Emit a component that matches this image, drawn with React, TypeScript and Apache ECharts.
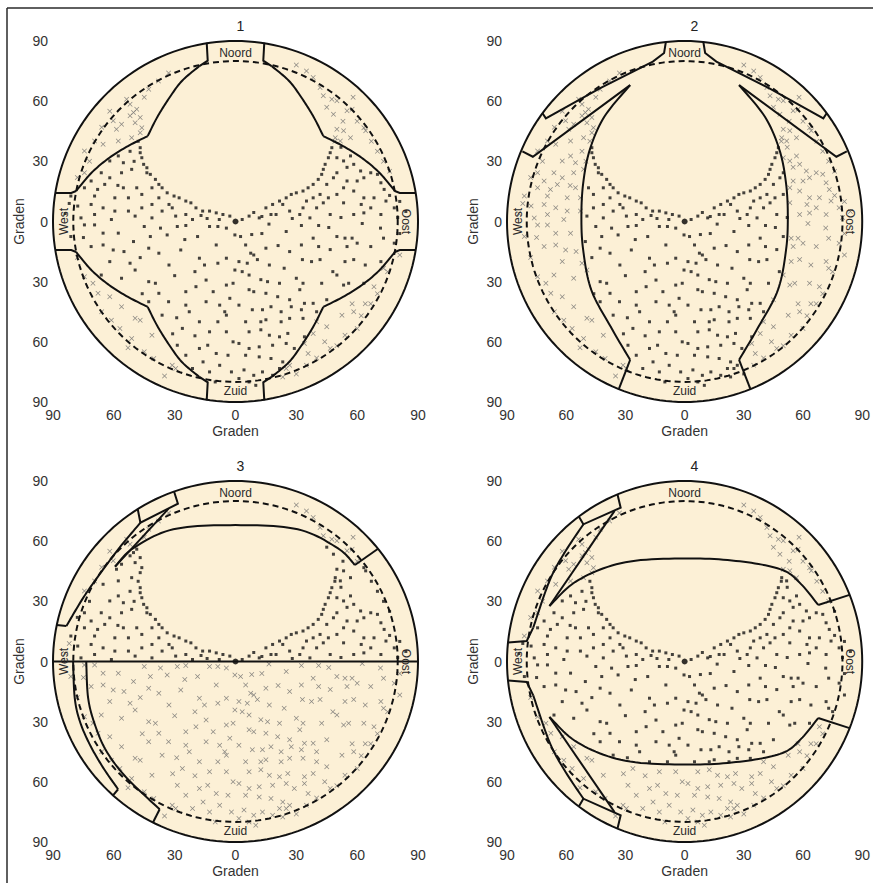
import React, { useEffect, useRef } from "react";
import * as echarts from "echarts";

type Pt = number[];
type Stroke = { pts: Pt[]; smooth?: boolean };

const panelTitles = ["1", "2", "3", "4"];
const axisName = "Graden";

// Star positions (x = east/west degrees, y = north/south degrees)
const pointsNE: Pt[] = [
  [3.3, 1], [6.7, 2.7], [9, 4.5], [11.7, 1.8], [13, 2.5], [15, 6.8], [17.5, 3.5], [18.3, 8.5], [20, 3.5], [21.7, 10.2],
  [23.3, 8.5], [25, 11.8], [26.7, 5.2], [27.5, 13.5], [28, 1.5], [30, 14.3], [31.7, 3.5], [33.3, 15.2], [33.3, 6.8], [35, 10.2],
  [35.8, 16.8], [36.7, 1.8], [38.3, 18.5], [38.3, 11.8], [40, 6.8], [40.8, 21], [41.7, 13.5], [42.5, 23.5], [43.3, 26], [43.3, 9.3],
  [44.2, 28.5], [45, 18.5], [45.8, 31.8], [45.8, 11.8], [46.7, 34.3], [46.7, 3.5], [47.5, 36.8], [48.3, 21.8], [49, 40], [50, 31.8],
  [50, 24.3], [50, 13.5], [52, 37], [52, 2], [53.3, 30.2], [53.3, 16.8], [53.3, 9.3], [55, 27], [55, 20.2], [56.7, 32.7],
  [58.3, 28.5], [58.3, 15.2], [58.3, 3.5], [60, 20.2], [61.7, 25.2], [62, 8.5], [63.3, 21.8], [63.3, 11.8], [63.3, 4.3], [66.7, 24.3],
  [66.7, 6.8], [68.3, 11.8], [70, 23.5], [71.7, 19.3], [71.7, 3.5], [73.3, 16], [74.2, 10.2], [76, 13], [78.3, 6.8], [80, 2],
  [81, 10], [84, 5],
  [30, 78], [35, 75], [38.3, 71.8], [41.7, 66.8], [43.3, 62.7], [45, 57], [47.5, 61], [48.3, 53.5], [49.2, 41.8], [50, 60.2],
  [50, 46], [51.7, 40.2], [53, 50], [53.3, 45.2], [55, 55.2], [56.7, 41.8], [57.5, 56], [58, 62], [60, 50], [63.3, 46.8],
  [64.2, 45.2], [67, 40], [70, 35], [73, 30], [76, 25],
];

const pointsNW: Pt[] = [
  [-2.8, 2.7], [-6.2, 3.5], [-8, 1], [-9.5, 4.3], [-12.8, 5.2], [-14, 1.5], [-16.2, 5.2], [-17, 3], [-19.5, 6.8], [-21.2, 1],
  [-22, 9.3], [-24.5, 10.2], [-24.5, 3.5], [-27.8, 11.8], [-29.5, 2.7], [-30.3, 12.7], [-31.2, 6.8], [-32.8, 8.5], [-33.7, 14.3], [-36.2, 16.8],
  [-36.2, 5.2], [-37.8, 18.5], [-37.8, 11.8], [-39.5, 21], [-41.2, 16.8], [-41.2, 8.5], [-41.2, 1.8], [-42, 23.5], [-43.7, 24.3], [-43.7, 26.8],
  [-45.3, 28.5], [-46.2, 31.8], [-46.2, 13.5], [-46.2, 6.8], [-47, 34.3], [-47, 36.8], [-48, 40], [-48.7, 16.8], [-49.5, 2.7], [-50, 30],
  [-51.2, 26], [-52, 35], [-52.8, 11.8], [-52.8, 5.2], [-55.3, 29.3], [-55.3, 16.8], [-56.2, 24.3], [-57.8, 32.7], [-58, 18], [-59.5, 11.8],
  [-59.5, 5.2], [-61.2, 1], [-62, 30.2], [-62, 21.8], [-64.5, 18.5], [-65.3, 6.8], [-66.2, 24.3], [-68, 16], [-69.5, 12.7], [-69.5, 3.5],
  [-71.2, 20.2], [-71.2, 8.5], [-74.5, 24.3], [-74.5, 16.8], [-76.2, 1.8], [-77.8, 7.7], [-81.2, 12.7], [-82, 9], [-84, 4],
  [-33, 74], [-38, 70], [-42.8, 66], [-45, 62], [-46.2, 46.8], [-47, 51.8], [-47, 44.3], [-48.7, 56], [-49.5, 49.3], [-50.3, 54.3],
  [-51.2, 41.8], [-52, 58.5], [-52, 52.7], [-53.7, 61], [-56.2, 48.5], [-57.8, 40.2], [-58.7, 46], [-60.3, 50.2], [-62, 55], [-65.3, 38.5],
  [-66, 47], [-69.5, 40.2], [-72, 30], [-74.5, 35.2], [-78, 22],
];

const pointsSW: Pt[] = [
  [-0.3, -6.7], [-4.5, -3.3], [-8.7, -2.5], [-9.5, -11.7], [-12.8, -2.5], [-18.7, -7.5], [-24.5, -2], [-25, -9], [-28.7, -2.5], [-33.7, -6.7],
  [-37, -3.3], [-42, -7.5], [-45, -2.5], [-50.3, -10], [-57.8, -5.8], [-65.3, -5.8], [-69.5, -1.7], [-74.5, -1.7], [-75, -8], [-81.2, -7.5],
  [-0.3, -24.2], [-4.5, -18.3], [-8.7, -20.8], [-15.3, -21.7], [-17.8, -18.3], [-20, -25], [-27, -14.2], [-32.8, -21.7], [-37.8, -15.8], [-42.8, -13.3],
  [-47, -18], [-52, -20.8], [-55, -15], [-60.3, -14.2], [-62, -20], [-65.3, -11.7], [-71.2, -12.5],
  [-1.2, -30.8], [-4.5, -31.7], [-11, -35], [-14.5, -29.2], [-19.5, -32.5], [-24.5, -35], [-30, -27], [-33, -40], [-37.8, -35.8], [-39.5, -30.8],
  [-42.8, -30], [-42.8, -40], [-46, -36], [-49.5, -24.2], [-56.2, -28.3], [-66.2, -26.7],
  [-2.8, -38.3], [-5.3, -45], [-7.8, -41.7], [-14.5, -40], [-22.8, -45], [-24.5, -41.7], [-29, -48], [-36.2, -46.7],
  [-1.2, -60], [-4.5, -46.7], [-4.5, -55], [-8.7, -50], [-12.8, -55], [-13.7, -61.7], [-17.8, -50], [-17.8, -63.3], [-20, -57], [-26.2, -53.3],
  [-31, -56], [-28.7, -61.7],
  [-2, -75], [-3.7, -66.7], [-7.8, -71.7], [-9.5, -65.8], [-10, -80], [-12.8, -75], [-16, -70], [-21.2, -73.3], [-24.5, -66.7],
  [-29.5, -73.3], [-31.2, -71.7], [-35, -77], [-40.3, -68.3], [-41.2, -56.7], [-45, -65], [-47, -49.2], [-49.5, -48.3], [-51.2, -58.3], [-53, -63],
  [-56.2, -42.5], [-57, -53.3], [-61.2, -49.2], [-62, -37.5], [-66, -45], [-67.8, -35.8], [-70.3, -30.8], [-74.5, -27.5], [-78, -18],
];

const pointsSE: Pt[] = [
  [2.5, -7.5], [8, -6.5], [13, -6], [16.5, -1.3], [25, -5], [32.5, -2], [41, -2], [46, -3], [50, -7.5], [54, -8.3],
  [57.5, -8.3], [62.5, -1], [71.5, -3.3], [73, -8.3], [81, -6],
  [5, -11.7], [7.5, -15.8], [9, -16.7], [15, -13.3], [21, -12], [26.7, -15], [32.5, -11.7], [38.3, -8.3], [41, -12.5], [46.7, -14],
  [55, -12.5], [60, -10.8], [66.7, -12.5], [78.3, -10.8], [81, -16.7],
  [1.7, -20], [5.8, -20.8], [10.8, -19], [16.7, -21.7], [24, -23.3], [33, -19], [37.5, -20], [41.7, -19], [48, -25], [50, -26.7],
  [54, -20], [58.3, -19], [64, -21.7], [71.7, -20], [73, -23.3],
  [3.3, -25], [6.7, -26.7], [12.5, -29], [15.8, -30], [21.7, -30.8], [30, -28.3], [33.3, -30.8], [42.5, -30.8], [53.3, -31.7], [55.8, -30.8],
  [6.7, -34], [9, -35], [15, -35.8], [20.8, -37.5], [26.7, -39], [31.7, -34], [34, -40.8], [38.3, -40.8], [45, -39],
  [1.7, -41.7], [8.3, -44], [13.3, -44], [17.5, -42.5], [22.5, -45], [27.5, -42.5], [32.5, -44], [40, -45],
  [5, -50], [12.5, -50], [15, -49], [22.5, -50], [26.7, -48.3], [33.3, -48.3], [40, -50],
  [6.7, -55], [12.5, -54], [16.7, -56.7], [21.7, -57.5], [25.8, -55.8], [34, -57.5], [38.3, -55.8],
  [1.7, -60.8], [6.7, -63.3], [11.7, -62.5], [18.3, -61.7], [25, -60.8], [29, -63.3], [34, -60.8],
  [5, -66.7], [11.7, -67.5], [17.5, -68.3], [23.3, -70], [26.7, -71.7],
  [4.2, -74], [9, -76.7], [13.3, -75], [18.3, -76.7], [21.7, -73.3],
  [1.7, -78.3], [6.7, -80], [10, -81.7],
  [23.3, -77.5], [25, -73.3], [30, -76], [35, -71.7], [35.8, -65.8], [40, -68], [44, -60], [45, -52.5], [46.7, -63.3], [50, -62],
  [52.5, -46.7], [54, -56.7], [57.5, -41], [58.3, -45], [60, -53.3], [62, -47], [63.3, -30.8], [64, -41], [66.7, -41], [68.3, -32.5],
  [70, -36], [75, -25],
];

const zenithPoint: Pt[] = [[0, 0]];

// Horizon outline geometry per panel (degrees)
const p1Quarter: Stroke[] = [
  { pts: [[14.2, 89.2], [13.7, 80.2], [17.8, 77.5]] },
  { pts: [[17.8, 77.5], [26.3, 70.2], [32.6, 61.7], [38.6, 52], [43.3, 42.6]], smooth: true },
  { pts: [[43.3, 42.6], [53, 37.6], [62.2, 31.8], [71, 24.3], [78.6, 15.2]], smooth: true },
  { pts: [[78.6, 15.2], [81, 14.2], [89, 14.2]] },
];
const p1QuarterPoly: Pt[] = [
  [14.2, 89.2], [13.7, 80.2], [17.8, 77.5], [26.3, 70.2], [32.6, 61.7], [38.6, 52], [43.3, 42.6], [53, 37.6],
  [62.2, 31.8], [71, 24.3], [78.6, 15.2], [81, 14.2], [89, 14.2],
];

const p2Crescent: Pt[] = [
  [-27.6, 68], [-40.7, 52.2], [-48.1, 35.6], [-51.4, 19], [-52.3, 2.4], [-51.4, -14.2],
  [-47.3, -34.1], [-37.5, -52.4], [-27.6, -69],
];
const p2West: Stroke[] = [
  { pts: [[-9.5, 89.5], [-10.4, 84], [-16.1, 79.7], [-43, 66.4], [-70.3, 51.4], [-72, 54]] },
  { pts: [[-82.2, 35], [-76.9, 32.3], [-27.6, 68]] },
  { pts: p2Crescent, smooth: true },
  { pts: [[-27.6, -69], [-33.3, -83.5]] },
];
const p2Top: Pt[] = [[16.1, 79.7], [10.4, 84], [9.5, 89.5], [-9.5, 89.5], [-10.4, 84], [-16.1, 79.7]];

const p3Arc: Pt[] = [[-59.4, 47.3], [-50.4, 56.5], [-30.7, 65.9], [0, 68], [30.7, 65.9], [50.4, 56.5], [58.9, 48.1]];
const p3Band2: Pt[] = [[-46.9, 69.2], [-57, 57], [-67, 43.5], [-75.2, 31.6], [-83.4, 17.7]];
const p3Strokes: Stroke[] = [
  { pts: [[-30.3, 84.8], [-28.4, 78.7], [-46.9, 69.2], [-48.2, 75.9]] },
  { pts: p3Band2, smooth: true },
  { pts: [[-83.4, 17.7], [-88.2, 18.2]] },
  { pts: [[-59.4, 47.3], [-33, 76.2]] },
  { pts: p3Arc, smooth: true },
  { pts: [[58.9, 48.1], [70.3, 56.2]] },
  { pts: [[-90, 0], [90, 0]] },
  { pts: [[-80.1, 0], [-79.3, -18], [-76.8, -29.7], [-71.9, -41.3], [-65.3, -52.9], [-57.9, -63.7]], smooth: true },
  { pts: [[-57.9, -63.7], [-60.4, -66.7]] },
  { pts: [[-73.6, 0], [-72.7, -18], [-69.4, -31.3], [-63.7, -44.6], [-53.8, -57.9], [-37.4, -73.7]], smooth: true },
  { pts: [[-37.4, -73.7], [-40.7, -80.3]] },
];
const p3Open: Pt[] = [
  [-80.1, 0], [-83.4, 17.7], [-75.2, 31.6], [-67, 43.5], ...p3Arc, [70.3, 56.2], [80, 41.2], [87, 23], [90, 0],
];

const p4Arc: Pt[] = [[-68.5, 27.7], [-53.9, 40.6], [-30, 49.5], [3, 51.4], [30, 49.7], [49.6, 45.6], [59, 38.6], [67.7, 28.2]];
const p4Upper: Stroke[] = [
  { pts: [[-34, 83.3], [-32.4, 76.7], [-51.3, 68.4], [-53.6, 72.3]] },
  { pts: [[-51.3, 68.4], [-61, 54], [-68.5, 40.1], [-76.7, 16.9]], smooth: true },
  { pts: [[-76.7, 16.9], [-80, 10.2], [-89.4, 9.5]] },
  { pts: [[-68.5, 27.7], [-35.5, 75.1]] },
  { pts: p4Arc, smooth: true },
  { pts: [[67.7, 28.2], [83.6, 33.2]] },
];
const p4UpperOpen: Pt[] = [[-89.4, 9.5], [-80, 10.2], [-76.7, 16.9], [-72.5, 28.5], ...p4Arc, [83.6, 33.2], [88, 18], [90, 0]];

const directionLabels = [
  { text: "Noord", pos: [0, 84], rot: 0 },
  { text: "Zuid", pos: [0, -84.5], rot: 0 },
  { text: "West", pos: [-84.5, 0], rot: Math.PI / 2 },
  { text: "Oost", pos: [84, 0], rot: -Math.PI / 2 },
];

const gridBoxes = [
  { left: 53, top: 41 },
  { left: 507, top: 41 },
  { left: 53, top: 481 },
  { left: 507, top: 481 },
];
const GW = 365;
const GH = 361;
const BEIGE = "#fcf0d6";
const INK = "#111111";
const FONT = "Arial, 'Liberation Sans', Helvetica, sans-serif";

function flip(s: Stroke, sx: number, sy: number): Stroke {
  return { pts: s.pts.map(([x, y]) => [x * sx, y * sy]), smooth: s.smooth };
}
function flipPts(p: Pt[], sx: number, sy: number): Pt[] {
  return p.map(([x, y]) => [x * sx, y * sy]);
}

// Catmull-Rom interpolation through the given pixel points
function catmull(p: number[][]): number[][] {
  if (p.length < 3) return p;
  const out: number[][] = [];
  const n = p.length;
  for (let i = 0; i < n - 1; i++) {
    const p0 = p[Math.max(0, i - 1)];
    const p1 = p[i];
    const p2 = p[i + 1];
    const p3 = p[Math.min(n - 1, i + 2)];
    const steps = 12;
    for (let k = 0; k < steps; k++) {
      const t = k / steps;
      const t2 = t * t;
      const t3 = t2 * t;
      const f = (a: number, b: number, c: number, d: number) =>
        0.5 * (2 * b + (-a + c) * t + (2 * a - 5 * b + 4 * c - d) * t2 + (-a + 3 * b - 3 * c + d) * t3);
      out.push([f(p0[0], p1[0], p2[0], p3[0]), f(p0[1], p1[1], p2[1], p3[1])]);
    }
  }
  out.push(p[n - 1]);
  return out;
}

const panelStrokes: Stroke[][] = [
  [1, -1].flatMap((sx) => [1, -1].flatMap((sy) => p1Quarter.map((s) => flip(s, sx, sy)))),
  [...p2West, ...p2West.map((s) => flip(s, -1, 1))],
  p3Strokes,
  [...p4Upper, ...p4Upper.map((s) => flip(s, 1, -1))],
];

const panelOpen: Pt[][] = [
  [
    ...p1QuarterPoly,
    ...flipPts(p1QuarterPoly, 1, -1).reverse(),
    ...flipPts(p1QuarterPoly, -1, -1),
    ...flipPts(p1QuarterPoly, -1, 1).reverse(),
  ],
  [...p2Crescent, [-33.3, -83.5], [33.3, -83.5], ...flipPts(p2Crescent, -1, 1).reverse(), ...p2Top],
  p3Open,
  [...p4UpperOpen, ...flipPts(p4UpperOpen.slice(0, -1), 1, -1).reverse()],
];

function inPoly(p: Pt, poly: Pt[]): boolean {
  let inside = false;
  for (let i = 0, j = poly.length - 1; i < poly.length; j = i++) {
    const [xi, yi] = poly[i];
    const [xj, yj] = poly[j];
    if (yi > p[1] !== yj > p[1] && p[0] < ((xj - xi) * (p[1] - yi)) / (yj - yi) + xi) inside = !inside;
  }
  return inside;
}

function circle(r: number): Pt[] {
  const out: Pt[] = [];
  for (let i = 0; i <= 180; i++) {
    const t = (i / 180) * Math.PI * 2;
    out.push([r * Math.cos(t), r * Math.sin(t)]);
  }
  return out;
}

const allPoints: Pt[] = [...pointsNE, ...pointsNW, ...pointsSW, ...pointsSE];

const CROSS = "path://M1,0 L5,4 L9,0 L10,1 L6,5 L10,9 L9,10 L5,6 L1,10 L0,9 L4,5 L0,1 Z";

function buildOption() {
  const grid = gridBoxes.map((b) => ({ left: b.left, top: b.top, width: GW, height: GH, containLabel: false }));
  const fmt = (v: number) => String(Math.abs(v));
  const lineCol = "#b8b8b8";
  const xAxis: any[] = [];
  const yAxis: any[] = [];
  const series: any[] = [];
  const graphic: any[] = [
    { type: "line", shape: { x1: 7, y1: 8, x2: 873, y2: 8 }, style: { stroke: "#2a2a2a", lineWidth: 1.5 }, silent: true },
    { type: "line", shape: { x1: 7, y1: 8, x2: 7, y2: 883 }, style: { stroke: "#2a2a2a", lineWidth: 1.5 }, silent: true },
  ];
  const title: any[] = [];

  gridBoxes.forEach((b, g) => {
    const common = {
      gridIndex: g,
      type: "value",
      min: -90,
      max: 90,
      interval: 30,
      splitLine: { show: false },
      axisLine: { show: true, lineStyle: { color: lineCol, width: 1 } },
      axisTick: { show: true, inside: true, length: 3, lineStyle: { color: "#777" } },
    };
    xAxis.push({
      ...common,
      position: "bottom",
      axisLabel: { formatter: fmt, color: "#333", fontSize: 14, margin: 6, fontFamily: FONT },
      name: axisName,
      nameLocation: "middle",
      nameGap: 22,
      nameTextStyle: { fontSize: 14, color: "#333", fontFamily: FONT },
    });
    xAxis.push({ ...common, position: "top", axisLabel: { show: false } });
    yAxis.push({
      ...common,
      position: "left",
      axisLabel: { formatter: fmt, color: "#333", fontSize: 14, margin: 5, fontFamily: FONT },
      name: axisName,
      nameLocation: "middle",
      nameGap: 27,
      nameRotate: 90,
      nameTextStyle: { fontSize: 14, color: "#333", fontFamily: FONT },
    });
    yAxis.push({ ...common, position: "right", axisLabel: { show: false } });

    title.push({
      text: panelTitles[g],
      left: b.left + GW / 2 - 4,
      top: b.top - 27,
      textStyle: { fontSize: 14, fontWeight: "normal", color: "#222", fontFamily: FONT },
    });

    const xi = g * 2;
    const yi = g * 2;
    const open = panelOpen[g];
    const dots = allPoints.filter((p) => inPoly(p, open));
    const crosses = allPoints.filter((p) => !inPoly(p, open));
    const strokes = panelStrokes[g];

    series.push({
      type: "custom",
      coordinateSystem: "cartesian2d",
      xAxisIndex: xi,
      yAxisIndex: yi,
      z: 1,
      silent: true,
      clip: false,
      data: [[0, 0]],
      renderItem: (_p: any, api: any) => ({
        type: "polygon",
        shape: { points: circle(90).map((q) => api.coord(q)) },
        style: { fill: BEIGE, stroke: null },
      }),
    });
    series.push({
      type: "scatter",
      xAxisIndex: xi,
      yAxisIndex: yi,
      z: 2,
      silent: true,
      symbol: CROSS,
      symbolSize: 5,
      itemStyle: { color: "#6a6a6a" },
      data: crosses,
    });
    series.push({
      type: "scatter",
      xAxisIndex: xi,
      yAxisIndex: yi,
      z: 3,
      silent: true,
      symbol: "rect",
      symbolSize: 3,
      itemStyle: { color: "#151515" },
      data: dots,
    });
    series.push({
      type: "scatter",
      xAxisIndex: xi,
      yAxisIndex: yi,
      z: 3,
      silent: true,
      symbol: "circle",
      symbolSize: 6,
      itemStyle: { color: "#000" },
      data: zenithPoint,
    });
    series.push({
      type: "custom",
      coordinateSystem: "cartesian2d",
      xAxisIndex: xi,
      yAxisIndex: yi,
      z: 4,
      silent: true,
      clip: false,
      data: [[0, 0]],
      renderItem: (_p: any, api: any) => {
        const c = (q: Pt) => api.coord(q);
        const children: any[] = [];
        children.push({
          type: "polyline",
          shape: { points: circle(80).map(c) },
          style: { stroke: INK, lineWidth: 2, lineDash: [6, 4], fill: null },
        });
        strokes.forEach((s) => {
          const px = s.pts.map(c);
          children.push({
            type: "polyline",
            shape: { points: s.smooth ? catmull(px) : px },
            style: { stroke: INK, lineWidth: 2, fill: null, lineJoin: "miter" },
          });
        });
        children.push({
          type: "polyline",
          shape: { points: circle(90).map(c) },
          style: { stroke: INK, lineWidth: 2, fill: null },
        });
        directionLabels.forEach((l) => {
          const [px, py] = c(l.pos);
          children.push({
            type: "text",
            x: px,
            y: py,
            rotation: l.rot,
            style: {
              text: l.text,
              fill: "#2a2a2a",
              fontSize: 12,
              fontFamily: FONT,
              align: "center",
              verticalAlign: "middle",
              textAlign: "center",
              textVerticalAlign: "middle",
            },
          });
        });
        return { type: "group", children };
      },
    });
  });

  return {
    animation: false,
    backgroundColor: "#ffffff",
    title,
    grid,
    xAxis,
    yAxis,
    series,
    graphic,
  };
}

export default function App() {
  const ref = useRef<HTMLDivElement>(null);
  useEffect(() => {
    if (!ref.current) return;
    const chart = echarts.init(ref.current, null, { renderer: "svg" });
    chart.setOption(buildOption() as any);
    return () => chart.dispose();
  }, []);
  return (
    <div
      ref={ref}
      style={{ position: "absolute", left: 0, top: 0, width: 873, height: 883, background: "#fff" }}
    />
  );
}
